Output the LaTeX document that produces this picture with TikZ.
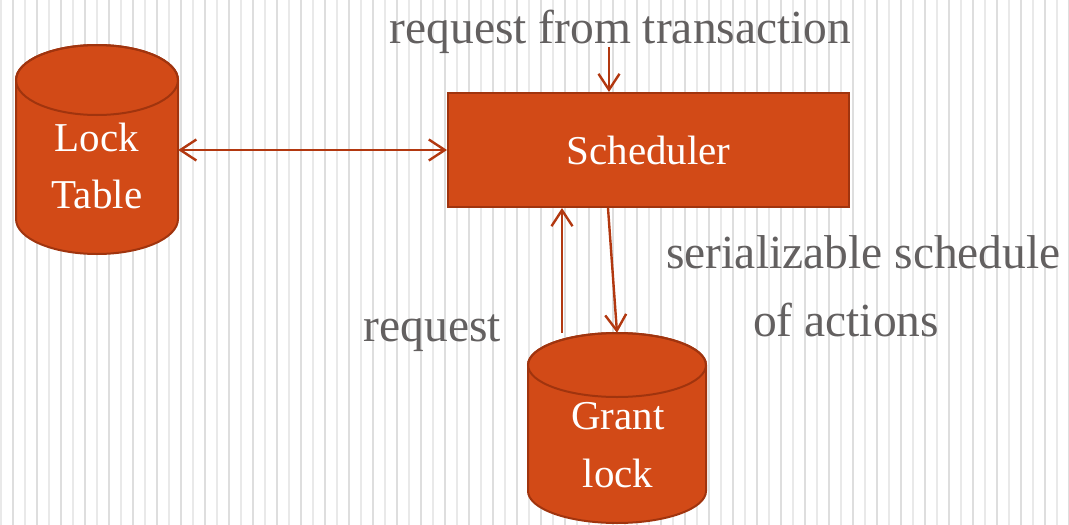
\documentclass[tikz,border=0pt]{standalone}
\usepackage{fontspec}
\setmainfont{Liberation Serif}
\usetikzlibrary{arrows.meta,calc}
\definecolor{fillc}{RGB}{210,74,23}
\definecolor{edgec}{RGB}{160,52,14}
\definecolor{arrc}{RGB}{178,56,16}
\definecolor{txtg}{RGB}{99,96,96}
\definecolor{bgl}{RGB}{222,222,222}
\definecolor{bglb}{RGB}{233,233,233}
\newcommand{\drawcyl}[5]{%
  \path[fill=fillc, draw=edgec, line width=2pt]
    (#1-#2,#4) -- (#1-#2,#5) arc[start angle=180,end angle=360,x radius=#2pt,y radius=#3pt]
    -- (#1+#2,#4) arc[start angle=0,end angle=180,x radius=#2pt,y radius=#3pt] -- cycle;
  \draw[edgec, line width=2pt] (#1,#4) ellipse[x radius=#2pt,y radius=#3pt];
}
\begin{document}
\begin{tikzpicture}[x=1pt,y=-1pt,
  body/.style={inner sep=0pt, draw=none},
  rectbox/.style={fill=fillc, draw=edgec, line width=2pt, inner sep=0pt, text=white,
    font=\fontsize{41}{49}\selectfont},
  ntext/.style={text=white, inner sep=0pt, anchor=base, font=\fontsize{41}{49}\selectfont},
  lbl/.style={text=txtg, inner sep=0pt, anchor=base, font=\fontsize{47.5}{57}\selectfont},
  arr/.style={draw=arrc, line width=2.4pt, -{Straight Barb[length=16pt,width=21pt]}},
  arrb/.style={draw=arrc, line width=2.4pt, {Straight Barb[length=16pt,width=21pt]}-{Straight Barb[length=16pt,width=21pt]}}
]
\useasboundingbox (0,0) rectangle (1069,525);
\fill[white] (0,0) rectangle (1069,525);
\begin{scope}
\clip (0,0) rectangle (1069,525);
\foreach \i in {0,...,44} {
  \draw[bgl, line width=2pt] (13+24*\i,0) -- (13+24*\i,525);
  \draw[bglb, line width=1.2pt] (1+24*\i,0) -- (1+24*\i,525);
}
\end{scope}

% cylinders
\drawcyl{97}{81}{35}{80}{219}
\drawcyl{617}{89}{32}{365}{491}

\node[body, minimum width=162pt, minimum height=208pt] (lock) at (97,150) {};
\node[ntext] (locka) at (97,151) {Lock};
\node[ntext] (lockb) at (97,208) {Table};

\node[body, minimum width=178pt, minimum height=190pt] (grant) at (617,428) {};
\node[ntext] (granta) at (618,429) {Grant};
\node[ntext] (grantb) at (618,487) {lock};

\node[rectbox, minimum width=401pt, minimum height=114pt] (sch) at (648.5,150) {Scheduler};

% labels
\node[lbl] (req) at (620.5,43) {request from transaction};
\node[lbl] (ser1) at (863.5,268) {serializable schedule};
\node[lbl] (ser2) at (846,336) {of actions};
\node[lbl] (req2) at (432.5,341) {request};

% connectors
\coordinate (reqend) at (609,47);
\draw[arrb] (lock.east) -- (sch.west);
\draw[arr] (reqend) -- (reqend |- sch.north);
\draw[arr] ([xshift=-55pt]grant.north) -- ([xshift=-55pt]grant.north |- sch.south);
\draw[arr] ([xshift=-9pt]grant.north |- sch.south) -- (grant.north);
\end{tikzpicture}
\end{document}
